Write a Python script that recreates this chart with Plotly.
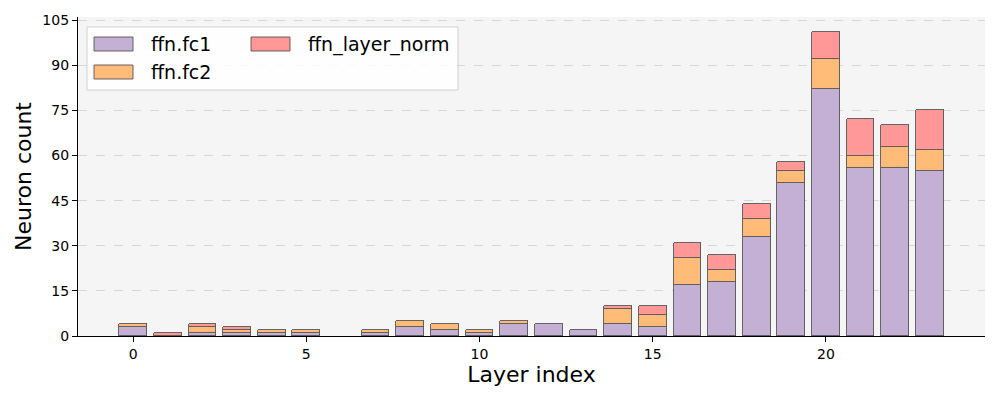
import plotly.graph_objects as go

layers = list(range(24))
fc1 = [3, 0, 1, 1, 1, 1, 0, 1, 3, 2, 1, 4, 4, 2, 4, 3, 17, 18, 33, 51, 82, 56, 56, 55]
fc2 = [1, 0, 2, 1, 1, 1, 0, 1, 2, 2, 1, 1, 0, 0, 5, 4, 9, 4, 6, 4, 10, 4, 7, 7]
norm = [0, 1, 1, 1, 0, 0, 0, 0, 0, 0, 0, 0, 0, 0, 1, 3, 5, 5, 5, 3, 9, 12, 7, 13]

names = ["ffn.fc1", "ffn.fc2", "ffn_layer_norm"]
colors = ["#c5b0d5", "#ffbb78", "#ff9896"]
series = [fc1, fc2, norm]

FONT = "DejaVu Sans"
W, H = 1000, 400
L, R, T, B = 78, 15, 17, 64
PW, PH = W - L - R, H - T - B

fig = go.Figure()
for name, col, vals in zip(names, colors, series):
    fig.add_trace(go.Bar(
        x=layers, y=[v if v else None for v in vals], name=name, width=0.8,
        marker=dict(color=col, line=dict(color="#555555", width=0.9)),
        showlegend=False,
    ))

def px(x):
    return (x - L) / PW

def py(y):
    return (H - B - y) / PH

shapes = [dict(type="rect", xref="paper", yref="paper",
               x0=px(87), x1=px(458), y0=py(90), y1=py(27),
               fillcolor="rgba(255,255,255,0.85)", line=dict(color="#d0d0d0", width=1),
               layer="above")]
annotations = []
legend_pos = [(94, 44, 149), (94, 72, 149), (251, 44, 306)]
for (sx, sy, tx), name, col in zip(legend_pos, names, colors):
    shapes.append(dict(type="rect", xref="paper", yref="paper",
                       x0=px(sx), x1=px(sx + 39), y0=py(sy + 7), y1=py(sy - 7),
                       fillcolor=col, line=dict(color="#555555", width=0.9), layer="above"))
    annotations.append(dict(xref="paper", yref="paper", x=px(tx), y=py(sy),
                            xanchor="left", yanchor="middle", text=name, showarrow=False,
                            font=dict(family=FONT, size=19, color="black")))

fig.update_layout(
    barmode="stack",
    width=W, height=H,
    margin=dict(l=L, r=R, t=T, b=B, pad=0),
    paper_bgcolor="white",
    plot_bgcolor="#f5f5f5",
    font=dict(family=FONT, size=14, color="black"),
    shapes=shapes,
    annotations=annotations,
    bargap=0,
)
fig.update_xaxes(
    range=[-1.59, 24.59], tickvals=[0, 5, 10, 15, 20],
    showgrid=False, zeroline=False, automargin=False,
    showline=True, linecolor="black", linewidth=1.2,
    ticks="outside", ticklen=5, tickcolor="black",
    tickfont=dict(size=14),
    title=dict(text="Layer index", font=dict(size=22), standoff=4),
)
fig.update_yaxes(
    range=[0, 106.05], tickvals=[0, 15, 30, 45, 60, 75, 90, 105],
    showgrid=True, gridcolor="#d6d6d6", griddash="dash", gridwidth=0.8,
    zeroline=False, automargin=False,
    showline=True, linecolor="black", linewidth=1.2,
    ticks="outside", ticklen=5, tickcolor="black",
    tickfont=dict(size=14),
    title=dict(text="Neuron count", font=dict(size=22), standoff=4),
)

fig.write_html("out.html", config={"displayModeBar": False},
               post_script="document.body.style.margin='0';document.body.style.overflow='hidden';")
